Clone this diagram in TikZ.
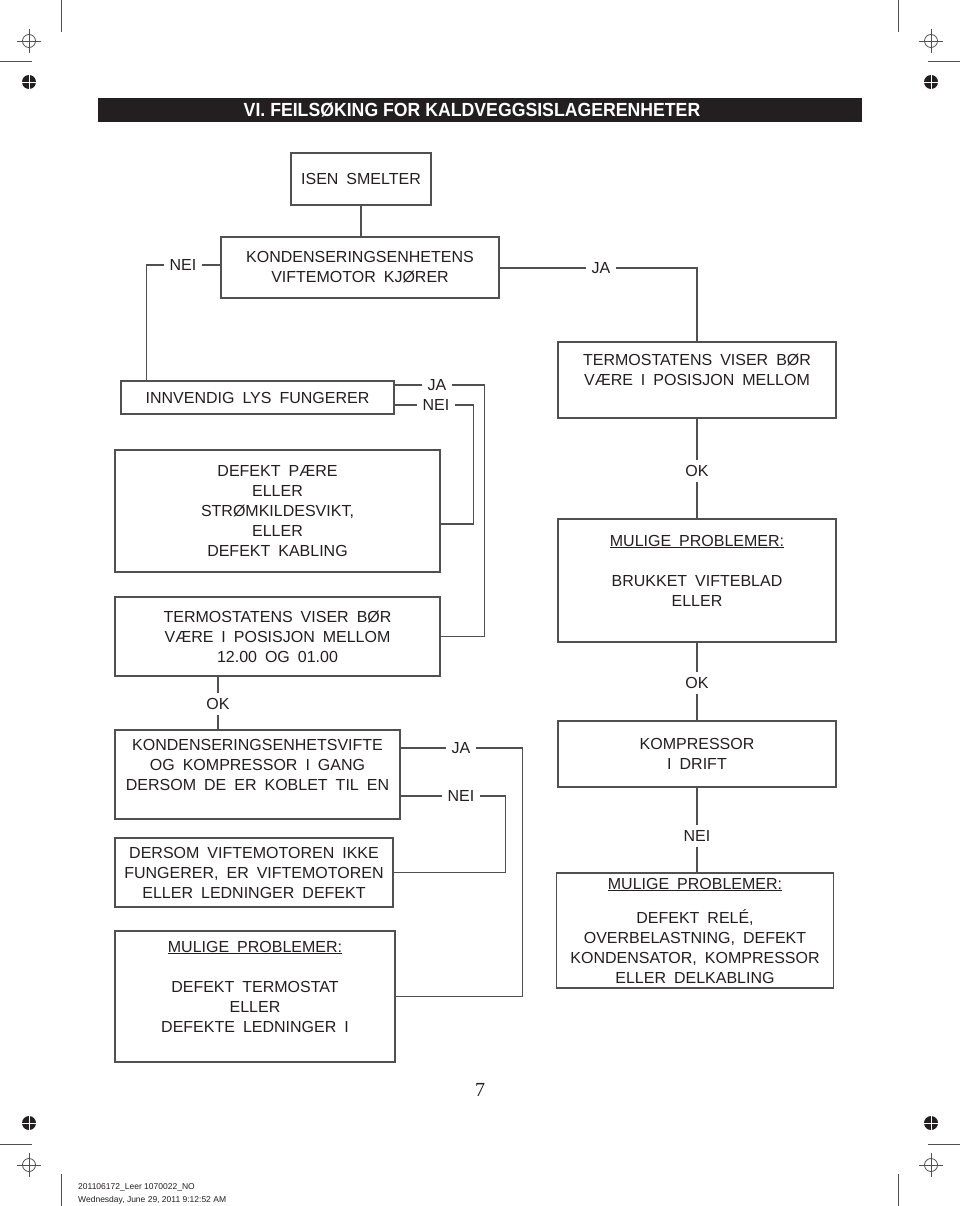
\documentclass[tikz,border=0pt]{standalone}
\usepackage{fontspec}
\usepackage{graphicx}
\setmainfont{Liberation Sans}
\newfontfamily\boxfont{Liberation Sans}[WordSpace=1.8]
\newfontfamily\pagefont{Liberation Serif}
\definecolor{linegray}{RGB}{80,80,80}
\definecolor{inkblack}{RGB}{35,31,32}

\begin{document}
\begin{tikzpicture}[
  x=1pt, y=-1pt,
  box/.style={draw=linegray, line width=1.1pt, align=center, inner sep=0pt,
    text=inkblack, font=\fontsize{16}{20}\boxfont},
  lbl/.style={inner xsep=5pt, inner ysep=5pt, text=inkblack,
    font=\fontsize{16}{20}\boxfont},
  line/.style={draw=linegray, line width=1.1pt},
  cropline/.style={draw=linegray, line width=0.8pt}
  ]
\useasboundingbox[fill=white] (0,0) rectangle (960,1206);

% crop marks
\foreach \x/\y in {61/0, 898/0, 61/1174, 898/1174}
  \draw[cropline] (\x,\y) -- ++(0,32);
\foreach \x/\y in {0/61, 928/61, 0/1144, 928/1144}
  \draw[cropline] (\x,\y) -- ++(32,0);
\foreach \x/\y in {29/41, 931/41, 29/1165, 931/1165} {
  \draw[cropline] (\x,\y) circle (6.5);
  \draw[cropline] (\x-12,\y) -- (\x+12,\y) (\x,\y-12) -- (\x,\y+12);
}
\foreach \x/\y in {29/82, 931/82, 29/1123, 931/1123} {
  \fill[inkblack] (\x,\y) circle (7);
  \draw[white, line width=0.5pt] (\x-7,\y) -- (\x+7,\y) (\x,\y-7) -- (\x,\y+7);
}

% title
\fill[inkblack] (98,98) rectangle (862,122);
\node[text=white, font=\fontsize{19}{20}\selectfont\bfseries] (title) at (472,110.5)
  {\scalebox{0.93}[1]{VI. FEILSØKING FOR KALDVEGGSISLAGERENHETER}};

% boxes
\node[box, minimum width=140pt, minimum height=52pt] (isen) at (361,179) {ISEN SMELTER};
\node[box, minimum width=278pt, minimum height=61pt] (kond) at (360,267.5)
  {KONDENSERINGSENHETENS\\VIFTEMOTOR KJØRER};
\node[box, minimum width=278pt, minimum height=76pt] (termR) at (697,380)
  {TERMOSTATENS VISER BØR\\VÆRE I POSISJON MELLOM\\\mbox{}};
\node[box, minimum width=273pt, minimum height=33pt] (innv) at (257.5,397.5)
  {INNVENDIG LYS FUNGERER};
\node[box, minimum width=325pt, minimum height=122pt] (defekt) at (277.5,511)
  {DEFEKT PÆRE\\ELLER\\STRØMKILDESVIKT,\\ELLER\\DEFEKT KABLING};
\node[box, minimum width=325pt, minimum height=79pt] (termL) at (277.5,636.5)
  {TERMOSTATENS VISER BØR\\VÆRE I POSISJON MELLOM\\12.00 OG 01.00};
\node[box, minimum width=285pt, minimum height=89pt] (kvifte) at (257.5,774.5)
  {KONDENSERINGSENHETSVIFTE\\OG KOMPRESSOR I GANG\\DERSOM DE ER KOBLET TIL EN\\\mbox{}};
\node[box, minimum width=278pt, minimum height=69pt] (dersom) at (254,872.5)
  {DERSOM VIFTEMOTOREN IKKE\\FUNGERER, ER VIFTEMOTOREN\\ELLER LEDNINGER DEFEKT};
\node[box, minimum width=280pt, minimum height=131pt] (mulL) at (255,996.5)
  {\underline{MULIGE PROBLEMER:}\\\mbox{}\\DEFEKT TERMOSTAT\\ELLER\\DEFEKTE LEDNINGER I\\\mbox{}};
\node[box, minimum width=278pt, minimum height=123pt] (mulR1) at (697,580.5)
  {\underline{MULIGE PROBLEMER:}\\\mbox{}\\BRUKKET VIFTEBLAD\\ELLER\\\mbox{}};
\node[box, minimum width=278pt, minimum height=66pt] (komp) at (697,754)
  {KOMPRESSOR\\I DRIFT};
\node[box, minimum width=277pt, minimum height=115pt] (mulR2) at (695,930.5)
  {\underline{MULIGE PROBLEMER:}\\[14pt]DEFEKT RELÉ,\\OVERBELASTNING, DEFEKT\\KONDENSATOR, KOMPRESSOR\\ELLER DELKABLING};

% answers
\node[lbl] (nei1) at (183,265) {NEI};
\node[lbl] (ja1) at (601,268) {JA};
\node[lbl] (ja2) at (437,385) {JA};
\node[lbl] (nei2) at (436,405) {NEI};
\node[lbl] (ok1) at (218,704) {OK};
\node[lbl] (ok2) at (697,471) {OK};
\node[lbl] (ok3) at (697,683) {OK};
\node[lbl] (ja3) at (461,748) {JA};
\node[lbl] (nei3) at (461,796) {NEI};
\node[lbl] (nei4) at (697,836) {NEI};

% connectors
\path[line] (isen) -- (isen |- kond.north);
\path[line] (kond.west |- nei1) -- (nei1);
\path[line] (nei1) -| ([xshift=26pt]innv.north west);
\path[line] (kond.east |- ja1) -- (ja1);
\path[line] (ja1) -| (termR.north);
\path[line] (innv.east |- ja2) -- (ja2);
\path[line] (ja2) -| ([xshift=44pt]termL.east) -- (termL.east);
\path[line] (innv.east |- nei2) -- (nei2);
\path[line] (nei2) -| ([xshift=33pt,yshift=-13pt]defekt.east) -- ([yshift=-13pt]defekt.east);
\path[line] (ok1 |- termL.south) -- (ok1);
\path[line] (ok1) -- (ok1 |- kvifte.north);
\path[line] (kvifte.east |- ja3) -- (ja3);
\path[line] (ja3) -| ([xshift=127pt]mulL.east) -- (mulL.east);
\path[line] (kvifte.east |- nei3) -- (nei3);
\path[line] (nei3) -| ([xshift=112pt]dersom.east) -- (dersom.east);
\path[line] (termR) -- (ok2);
\path[line] (ok2) -- (mulR1);
\path[line] (mulR1) -- (ok3);
\path[line] (ok3) -- (komp);
\path[line] (komp) -- (nei4);
\path[line] (nei4) -- (nei4 |- mulR2.north);

% page footer
\node[text=inkblack, font=\fontsize{20}{20}\pagefont] (pagenum) at (480,1090) {7};
\node[anchor=west, inner sep=0pt, text=inkblack, font=\fontsize{8.5}{10}\selectfont] (jobline) at (78,1187)
  {201106172\_Leer 1070022\_NO};
\node[anchor=west, inner sep=0pt, text=inkblack, font=\fontsize{8.5}{10}\selectfont] (dateline) at (78,1200)
  {Wednesday, June 29, 2011 9:12:52 AM};
\end{tikzpicture}
\end{document}
